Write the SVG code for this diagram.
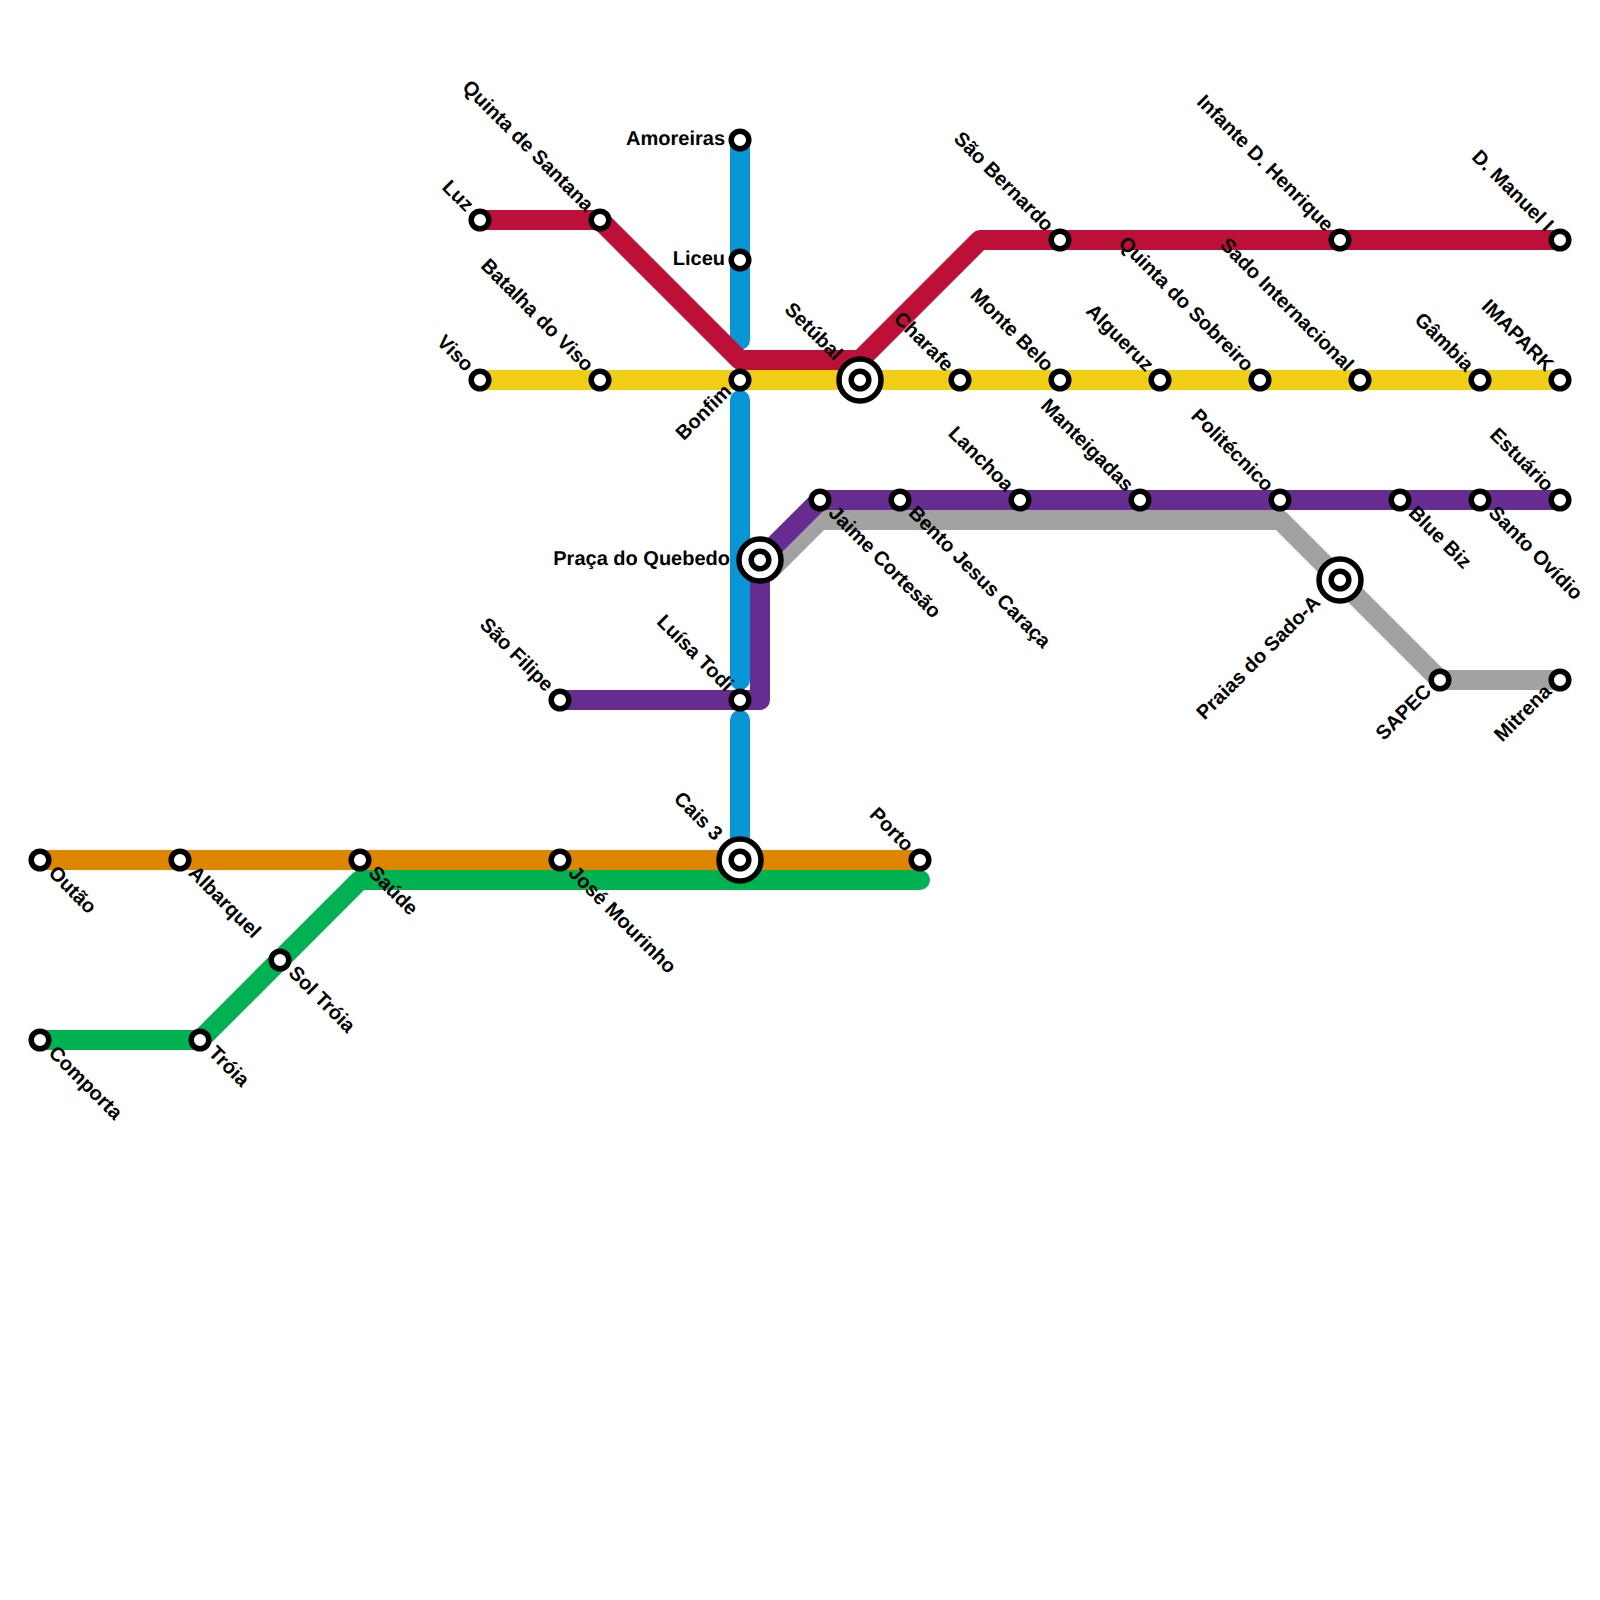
<svg xmlns="http://www.w3.org/2000/svg" width="1600" height="1600" viewBox="0 0 1600 1600">
<style>
.l{fill:none;stroke-width:20;stroke-linecap:round;stroke-linejoin:round}
.s{fill:#fff;stroke:#000;stroke-width:5.5}
.o{fill:#fff;stroke:#000;stroke-width:5.5}
text{font-family:"Liberation Sans",Arial,sans-serif;font-size:20px;font-weight:700;fill:#000;text-rendering:geometricPrecision}
.e{text-anchor:end}
</style>
<rect width="1600" height="1600" fill="#fff"/>
<g id="connectors">
<path class="l" stroke="#a2a2a2" d="M770 570L820 520H1280L1440 680H1560"/>
<path class="l" stroke="#662c90" d="M560 700H760V560L820 500H1560"/>
<path class="l" stroke="#0896d7" d="M740 140V340M740 400V680M740 720V860"/>
<path class="l" stroke="#bd1038" d="M480 220H600L740 360H860L980 240H1560"/>
<path class="l" stroke="#f0ce15" d="M480 380H1560"/>
<path class="l" stroke="#00b251" d="M40 1040H200L360 880H920"/>
<path class="l" stroke="#df8600" d="M40 860H920"/>
</g>
<g id="n1"><circle class="s" cx="740" cy="140" r="8.8"/><text class="e" x="725" y="144.500">Amoreiras</text></g>
<g id="n2"><circle class="s" cx="740" cy="260" r="8.8"/><text class="e" x="725" y="264.500">Liceu</text></g>
<g id="n3"><circle class="s" cx="480" cy="220" r="8.800"/><text class="e" transform="translate(469 209) rotate(45)" y="5">Luz</text></g>
<g id="n4"><circle class="s" cx="600" cy="220" r="8.800"/><text class="e" transform="translate(589 209) rotate(45)" y="5">Quinta de Santana</text></g>
<g id="n5"><circle class="s" cx="480" cy="380" r="8.800"/><text class="e" transform="translate(469 369) rotate(45)" y="5">Viso</text></g>
<g id="n6"><circle class="s" cx="600" cy="380" r="8.800"/><text class="e" transform="translate(589 369) rotate(45)" y="5">Batalha do Viso</text></g>
<g id="n7"><circle class="s" cx="740" cy="380" r="8.800"/><text class="e" transform="translate(729 389) rotate(-45)" y="5">Bonfim</text></g>
<g id="n8"><circle class="o" cx="860" cy="380" r="21"/><circle class="s" cx="860" cy="380" r="8.800"/><text class="e" transform="translate(838 358) rotate(45)" y="5">Setúbal</text></g>
<g id="n9"><circle class="s" cx="960" cy="380" r="8.800"/><text class="e" transform="translate(949 369) rotate(45)" y="5">Charafe</text></g>
<g id="n10"><circle class="s" cx="1060" cy="380" r="8.800"/><text class="e" transform="translate(1049 369) rotate(45)" y="5">Monte Belo</text></g>
<g id="n11"><circle class="s" cx="1160" cy="380" r="8.800"/><text class="e" transform="translate(1149 369) rotate(45)" y="5">Algueruz</text></g>
<g id="n12"><circle class="s" cx="1260" cy="380" r="8.800"/><text class="e" transform="translate(1249 369) rotate(45)" y="5">Quinta do Sobreiro</text></g>
<g id="n13"><circle class="s" cx="1360" cy="380" r="8.800"/><text class="e" transform="translate(1349 369) rotate(45)" y="5">Sado Internacional</text></g>
<g id="n14"><circle class="s" cx="1480" cy="380" r="8.800"/><text class="e" transform="translate(1469 369) rotate(45)" y="5">Gâmbia</text></g>
<g id="n15"><circle class="s" cx="1560" cy="380" r="8.800"/><text class="e" transform="translate(1549 369) rotate(45)" y="5">IMAPARK</text></g>
<g id="n16"><circle class="s" cx="1060" cy="240" r="8.800"/><text class="e" transform="translate(1049 229) rotate(45)" y="5">São Bernardo</text></g>
<g id="n17"><circle class="s" cx="1340" cy="240" r="8.800"/><text class="e" transform="translate(1329 229) rotate(45)" y="5">Infante D. Henrique</text></g>
<g id="n18"><circle class="s" cx="1560" cy="240" r="8.800"/><text class="e" transform="translate(1549 229) rotate(45)" y="5">D. Manuel I</text></g>
<g id="n19"><circle class="s" cx="820" cy="500" r="8.800"/><text transform="translate(831 510.500) rotate(45)" y="5">Jaime Cortesão</text></g>
<g id="n20"><circle class="s" cx="900" cy="500" r="8.800"/><text transform="translate(911 510.500) rotate(45)" y="5">Bento Jesus Caraça</text></g>
<g id="n21"><circle class="s" cx="1020" cy="500" r="8.800"/><text class="e" transform="translate(1009 489) rotate(45)" y="5">Lanchoa</text></g>
<g id="n22"><circle class="s" cx="1140" cy="500" r="8.800"/><text class="e" transform="translate(1129 489) rotate(45)" y="5">Manteigadas</text></g>
<g id="n23"><circle class="s" cx="1280" cy="500" r="8.800"/><text class="e" transform="translate(1269 489) rotate(45)" y="5">Politécnico</text></g>
<g id="n24"><circle class="s" cx="1400" cy="500" r="8.800"/><text transform="translate(1411 510.500) rotate(45)" y="5">Blue Biz</text></g>
<g id="n25"><circle class="s" cx="1480" cy="500" r="8.800"/><text transform="translate(1491 510.500) rotate(45)" y="5">Santo Ovídio</text></g>
<g id="n26"><circle class="s" cx="1560" cy="500" r="8.800"/><text class="e" transform="translate(1549 489) rotate(45)" y="5">Estuário</text></g>
<g id="n27"><circle class="o" cx="760" cy="560" r="21"/><circle class="s" cx="760" cy="560" r="8.800"/><text class="e" x="730" y="564.500">Praça do Quebedo</text></g>
<g id="n28"><circle class="o" cx="1340" cy="580" r="21"/><circle class="s" cx="1340" cy="580" r="8.800"/><text class="e" transform="translate(1318 600) rotate(-45)" y="5">Praias do Sado-A</text></g>
<g id="n29"><circle class="s" cx="1440" cy="680" r="8.800"/><text class="e" transform="translate(1429 689) rotate(-45)" y="5">SAPEC</text></g>
<g id="n30"><circle class="s" cx="1560" cy="680" r="8.800"/><text class="e" transform="translate(1549 689) rotate(-45)" y="5">Mitrena</text></g>
<g id="n31"><circle class="s" cx="560" cy="700" r="8.800"/><text class="e" transform="translate(549 689) rotate(45)" y="5">São Filipe</text></g>
<g id="n32"><circle class="s" cx="740" cy="700" r="8.800"/><text class="e" transform="translate(729 689) rotate(45)" y="5">Luísa Todi</text></g>
<g id="n33"><circle class="o" cx="740" cy="860" r="21"/><circle class="s" cx="740" cy="860" r="8.800"/><text class="e" transform="translate(718 838) rotate(45)" y="5">Cais 3</text></g>
<g id="n34"><circle class="s" cx="920" cy="860" r="8.800"/><text class="e" transform="translate(909 849) rotate(45)" y="5">Porto</text></g>
<g id="n35"><circle class="s" cx="40" cy="860" r="8.800"/><text transform="translate(51 870.500) rotate(45)" y="5">Outão</text></g>
<g id="n36"><circle class="s" cx="180" cy="860" r="8.800"/><text transform="translate(191 870.500) rotate(45)" y="5">Albarquel</text></g>
<g id="n37"><circle class="s" cx="360" cy="860" r="8.800"/><text transform="translate(371 870.500) rotate(45)" y="5">Saúde</text></g>
<g id="n38"><circle class="s" cx="560" cy="860" r="8.800"/><text transform="translate(571 870.500) rotate(45)" y="5">José Mourinho</text></g>
<g id="n39"><circle class="s" cx="280" cy="960" r="8.800"/><text transform="translate(291 970.500) rotate(45)" y="5">Sol Tróia</text></g>
<g id="n40"><circle class="s" cx="40" cy="1040" r="8.800"/><text transform="translate(51 1050.500) rotate(45)" y="5">Comporta</text></g>
<g id="n41"><circle class="s" cx="200" cy="1040" r="8.800"/><text transform="translate(211 1050.500) rotate(45)" y="5">Tróia</text></g>
</svg>
